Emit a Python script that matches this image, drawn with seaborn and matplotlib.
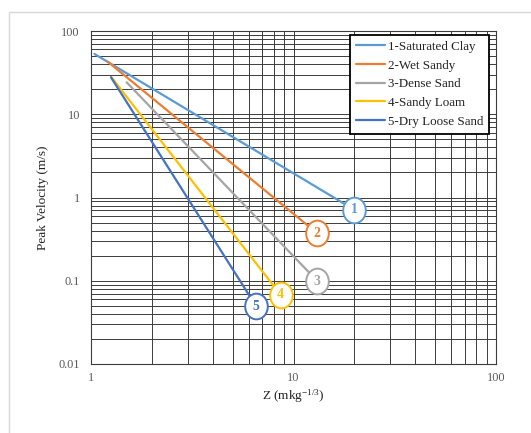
import numpy as np
import pandas as pd
import matplotlib
matplotlib.use("Agg")
import matplotlib.pyplot as plt
import seaborn as sns
from matplotlib.path import Path
from matplotlib.transforms import Affine2D
from matplotlib.ticker import FixedLocator, FixedFormatter, LogLocator, NullFormatter
from matplotlib.patches import Rectangle

# ---- data ----
series_names = ["1-Saturated Clay", "2-Wet Sandy", "3-Dense Sand", "4-Sandy Loam", "5-Dry Loose Sand"]
label_numbers = ["1", "2", "3", "4", "5"]
z_start = [1.04, 1.21, 1.50, 1.26, 1.255]
v_start = [53.0, 42.8, 24.2, 28.0, 27.8]
z_end = [20.0, 13.1, 13.1, 8.65, 6.53]
v_end = [0.71, 0.372, 0.0993, 0.0675, 0.0497]
colors = ["#5B9BD5", "#ED7D31", "#A5A5A5", "#FFC000", "#4472C4"]
x_ticks = [1, 10, 100]
x_tick_labels = ["1", "10", "100"]
y_ticks = [0.01, 0.1, 1, 10, 100]
y_tick_labels = ["0.01", "0.1", "1", "10", "100"]

rows = []
for name, zs, vs, ze, ve in zip(series_names, z_start, v_start, z_end, v_end):
    rows.append({"Soil": name, "Z": zs, "V": vs})
    rows.append({"Soil": name, "Z": ze, "V": ve})
df = pd.DataFrame(rows)

sns.set_style("white")
plt.rcParams["font.family"] = ["Liberation Serif", "DejaVu Serif"]
plt.rcParams["mathtext.fontset"] = "custom"
plt.rcParams["mathtext.rm"] = "Liberation Serif"
plt.rcParams["mathtext.it"] = "Liberation Serif"
plt.rcParams["mathtext.default"] = "regular"

fig = plt.figure(figsize=(5.31, 4.33), dpi=100)
ax = fig.add_axes([91 / 531, 1 - 364 / 433, (496 - 91) / 531, (364 - 31) / 433])
ax.set_xscale("log")
ax.set_yscale("log")

sns.lineplot(data=df, x="Z", y="V", hue="Soil", hue_order=series_names,
             palette=colors, sort=False, estimator=None, linewidth=1.6, ax=ax, zorder=3)

ax.set_xlim(1, 100)
ax.set_ylim(0.01, 100)

ax.xaxis.set_major_locator(FixedLocator(x_ticks))
ax.xaxis.set_major_formatter(FixedFormatter(x_tick_labels))
ax.yaxis.set_major_locator(FixedLocator(y_ticks))
ax.yaxis.set_major_formatter(FixedFormatter(y_tick_labels))
ax.xaxis.set_minor_locator(LogLocator(base=10, subs=np.arange(2, 10)))
ax.yaxis.set_minor_locator(LogLocator(base=10, subs=np.arange(2, 10)))
ax.xaxis.set_minor_formatter(NullFormatter())
ax.yaxis.set_minor_formatter(NullFormatter())
ax.grid(which="both", color="#3c3c3c", linewidth=0.7)
ax.set_axisbelow(True)
ax.tick_params(which="both", length=0, labelsize=8.8, labelcolor="#595959")
ax.tick_params(axis="y", pad=8)
ax.tick_params(axis="x", pad=6)
for side in ["left", "bottom", "top", "right"]:
    ax.spines[side].set_color("#3c3c3c")
    ax.spines[side].set_linewidth(0.8)

ax.set_xlabel("Z (mkg$^{-1/3}$)", fontsize=9.5, color="#222222", labelpad=2)
ax.set_ylabel("Peak Velocity (m/s)", fontsize=9.5, color="#222222", labelpad=7)

# ellipse callouts at the end of each series
ell = Path.unit_circle().transformed(Affine2D().scale(0.88, 1.0))
for num, ze, ve, c in zip(label_numbers, z_end, v_end, colors):
    ax.plot([ze], [ve], marker=ell, markersize=18.5, markerfacecolor="white",
            markeredgecolor=c, markeredgewidth=1.4, linestyle="none", zorder=5)
    ax.text(ze, ve, num, ha="center", va="center", color=c, fontsize=10,
            fontweight="bold", zorder=6)

leg = ax.legend(loc="upper right", bbox_to_anchor=(0.983, 0.988), borderaxespad=0,
                fontsize=9.4, frameon=True, fancybox=False, framealpha=1,
                handlelength=2.2, handletextpad=0.25, labelspacing=0.5,
                borderpad=0.45, title=None)
leg.get_frame().set_edgecolor("black")
leg.get_frame().set_linewidth(1.3)
for line in leg.get_lines():
    line.set_linewidth(1.6)
for t in leg.get_texts():
    t.set_color("#222222")

fig.patches.append(Rectangle((9 / 531, -0.2), 1.2, (433 - 12) / 433 + 0.2,
                             transform=fig.transFigure, fill=False,
                             edgecolor="#d9d9d9", linewidth=1.0, zorder=0))

fig.savefig("out.png", dpi=100)
